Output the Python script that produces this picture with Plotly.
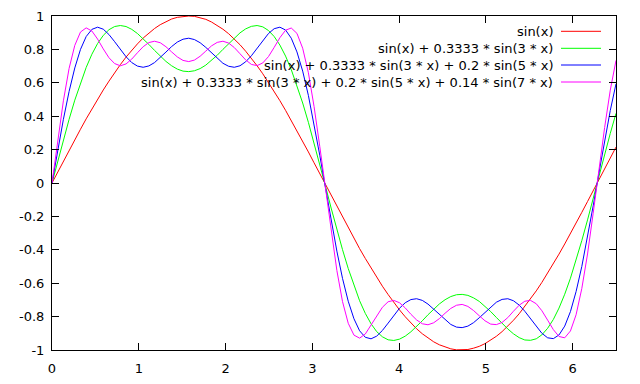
import plotly.graph_objects as go

x_values = [0, 0.0657, 0.1313, 0.197, 0.2626, 0.3283, 0.3939, 0.4596, 0.5253, 0.5909,
            0.6566, 0.7222, 0.7879, 0.8535, 0.9192, 0.9848, 1.0505, 1.1162, 1.1818, 1.2475,
            1.3131, 1.3788, 1.4444, 1.5101, 1.5758, 1.6414, 1.7071, 1.7727, 1.8384, 1.904,
            1.9697, 2.0354, 2.101, 2.1667, 2.2323, 2.298, 2.3636, 2.4293, 2.4949, 2.5606,
            2.6263, 2.6919, 2.7576, 2.823, 2.889, 2.955, 3.020, 3.086, 3.152, 3.217,
            3.283, 3.348, 3.414, 3.480, 3.545, 3.611, 3.677, 3.742, 3.808, 3.874,
            3.939, 4.005, 4.071, 4.136, 4.202, 4.268, 4.333, 4.399, 4.465, 4.530,
            4.596, 4.662, 4.727, 4.793, 4.859, 4.924, 4.990, 5.056, 5.121, 5.187,
            5.253, 5.318, 5.384, 5.449, 5.515, 5.581, 5.646, 5.712, 5.778, 5.843,
            5.909, 5.975, 6.040, 6.106, 6.172, 6.237, 6.303, 6.369, 6.434, 6.500]

sin1 = [0.000, 0.066, 0.131, 0.196, 0.260, 0.322, 0.384, 0.444, 0.501, 0.557,
        0.610, 0.661, 0.709, 0.754, 0.795, 0.833, 0.868, 0.898, 0.925, 0.948,
        0.967, 0.982, 0.992, 0.998, 1.000, 0.998, 0.991, 0.980, 0.964, 0.945,
        0.921, 0.894, 0.863, 0.828, 0.789, 0.747, 0.702, 0.654, 0.603, 0.549,
        0.493, 0.435, 0.375, 0.313, 0.250, 0.186, 0.121, 0.056, -0.010, -0.076,
        -0.141, -0.205, -0.269, -0.332, -0.393, -0.452, -0.510, -0.565, -0.618, -0.668,
        -0.716, -0.760, -0.801, -0.839, -0.873, -0.903, -0.929, -0.951, -0.969, -0.983,
        -0.993, -0.999, -1.000, -0.997, -0.989, -0.978, -0.962, -0.942, -0.918, -0.890,
        -0.858, -0.822, -0.783, -0.740, -0.695, -0.646, -0.595, -0.541, -0.484, -0.426,
        -0.365, -0.304, -0.240, -0.176, -0.111, -0.046, 0.020, 0.085, 0.151, 0.215]

sin3 = [0.000, 0.131, 0.259, 0.381, 0.496, 0.600, 0.692, 0.771, 0.835, 0.884,
        0.918, 0.937, 0.943, 0.937, 0.920, 0.895, 0.864, 0.830, 0.794, 0.760,
        0.728, 0.702, 0.682, 0.670, 0.667, 0.672, 0.685, 0.706, 0.733, 0.765,
        0.800, 0.835, 0.869, 0.899, 0.923, 0.938, 0.943, 0.935, 0.913, 0.877,
        0.826, 0.760, 0.679, 0.585, 0.479, 0.363, 0.240, 0.111, -0.020, -0.150,
        -0.278, -0.399, -0.512, -0.615, -0.705, -0.781, -0.843, -0.890, -0.921, -0.939,
        -0.943, -0.935, -0.917, -0.891, -0.859, -0.825, -0.789, -0.755, -0.724, -0.699,
        -0.680, -0.669, -0.667, -0.673, -0.688, -0.709, -0.737, -0.770, -0.805, -0.841,
        -0.874, -0.903, -0.926, -0.940, -0.942, -0.933, -0.909, -0.870, -0.817, -0.749,
        -0.666, -0.570, -0.462, -0.345, -0.221, -0.091, 0.040, 0.170, 0.297, 0.417]

sin5 = [0.000, 0.195, 0.381, 0.548, 0.689, 0.800, 0.877, 0.920, 0.933, 0.921,
        0.889, 0.846, 0.800, 0.756, 0.721, 0.700, 0.693, 0.701, 0.721, 0.751,
        0.784, 0.817, 0.844, 0.861, 0.867, 0.859, 0.840, 0.812, 0.779, 0.746,
        0.717, 0.699, 0.693, 0.702, 0.726, 0.762, 0.807, 0.853, 0.895, 0.924,
        0.933, 0.916, 0.867, 0.785, 0.670, 0.524, 0.354, 0.166, -0.030, -0.224,
        -0.408, -0.571, -0.708, -0.813, -0.885, -0.924, -0.933, -0.917, -0.883, -0.839,
        -0.793, -0.750, -0.717, -0.698, -0.693, -0.703, -0.725, -0.756, -0.789, -0.821,
        -0.847, -0.863, -0.866, -0.857, -0.836, -0.807, -0.774, -0.741, -0.714, -0.697,
        -0.693, -0.705, -0.731, -0.768, -0.814, -0.860, -0.900, -0.927, -0.932, -0.910,
        -0.857, -0.770, -0.650, -0.500, -0.326, -0.137, 0.059, 0.253, 0.434, 0.594]

sin7 = [0.000, 0.258, 0.492, 0.686, 0.824, 0.904, 0.929, 0.910, 0.862, 0.803,
        0.750, 0.715, 0.702, 0.713, 0.742, 0.780, 0.816, 0.841, 0.849, 0.840,
        0.816, 0.785, 0.755, 0.734, 0.727, 0.736, 0.759, 0.790, 0.821, 0.842,
        0.849, 0.838, 0.811, 0.774, 0.737, 0.710, 0.703, 0.719, 0.757, 0.812,
        0.870, 0.915, 0.928, 0.896, 0.807, 0.660, 0.459, 0.219, -0.039, -0.295,
        -0.524, -0.710, -0.840, -0.911, -0.929, -0.904, -0.853, -0.795, -0.744, -0.711,
        -0.703, -0.717, -0.748, -0.786, -0.820, -0.843, -0.849, -0.837, -0.812, -0.780,
        -0.751, -0.732, -0.727, -0.739, -0.764, -0.795, -0.825, -0.845, -0.848, -0.835,
        -0.806, -0.768, -0.732, -0.708, -0.703, -0.723, -0.765, -0.821, -0.878, -0.919,
        -0.927, -0.886, -0.789, -0.632, -0.425, -0.181, 0.079, 0.332, 0.556, 0.734]

series_names = ["sin(x)",
                "sin(x) + 0.3333 * sin(3 * x)",
                "sin(x) + 0.3333 * sin(3 * x) + 0.2 * sin(5 * x)",
                "sin(x) + 0.3333 * sin(3 * x) + 0.2 * sin(5 * x) + 0.14 * sin(7 * x)"]
series_values = [sin1, sin3, sin5, sin7]
colors = ["#ff0000", "#00ff00", "#0000ff", "#ff00ff"]

x_ticks = [0, 1, 2, 3, 4, 5, 6]
x_tick_labels = ["0", "1", "2", "3", "4", "5", "6"]
y_ticks = [-1, -0.8, -0.6, -0.4, -0.2, 0, 0.2, 0.4, 0.6, 0.8, 1]
y_tick_labels = ["-1", "-0.8", "-0.6", "-0.4", "-0.2", "0", "0.2", "0.4", "0.6", "0.8", "1"]

W, H = 640, 384
L, R, T, B = 52, 616, 16, 350
pw, ph = R - L, B - T

def px_x(p):
    return (p - L) / pw

def px_y(p):
    return (B - p) / ph

fig = go.Figure()
for name, vals, col in zip(series_names, series_values, colors):
    fig.add_trace(go.Scatter(x=x_values, y=vals, mode="lines", name=name,
                             line=dict(color=col, width=1), showlegend=False))

font = dict(family="DejaVu Sans", size=13, color="black")
row_y = [31.3, 48.3, 65.0, 82.0]
annotations = []
shapes = []
for name, col, ry in zip(series_names, colors, row_y):
    annotations.append(dict(x=px_x(554), y=px_y(ry), xref="paper", yref="paper",
                            text=name, showarrow=False, xanchor="right", yanchor="middle",
                            font=font, borderpad=0))
    shapes.append(dict(type="line", xref="paper", yref="paper",
                       x0=px_x(561), x1=px_x(601), y0=px_y(ry), y1=px_y(ry),
                       line=dict(color=col, width=1)))

axis_common = dict(showline=True, linecolor="black", linewidth=1, mirror="ticks",
                   ticks="inside", ticklen=7, tickcolor="black", tickwidth=1,
                   showgrid=False, zeroline=False, tickfont=font, automargin=False)

fig.update_layout(
    width=W, height=H,
    margin=dict(l=L, r=W - R, t=T, b=H - B),
    paper_bgcolor="white", plot_bgcolor="white",
    font=font,
    xaxis=dict(range=[0, 6.5], tickvals=x_ticks, ticktext=x_tick_labels,
               ticklabelstandoff=6, **axis_common),
    yaxis=dict(range=[-1, 1], tickvals=y_ticks, ticktext=y_tick_labels,
               ticklabelstandoff=4, **axis_common),
    annotations=annotations, shapes=shapes,
)

fig.write_html("out.html", config={"displayModeBar": False},
               post_script="document.body.style.margin='0';")
